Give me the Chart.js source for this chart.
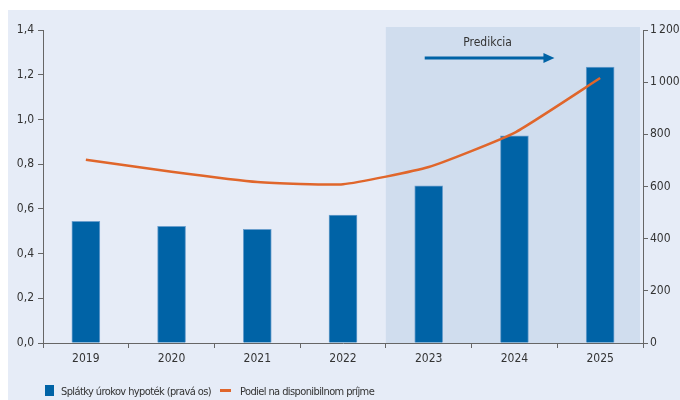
<!DOCTYPE html>
<html>
<head>
<meta charset="utf-8">
<script src="https://cdn.jsdelivr.net/npm/chart.js@4"></script>
<style>
  html, body { margin: 0; padding: 0; background: #fff; }
  #wrap { position: relative; width: 680px; height: 400px; overflow: hidden; }
  #panel { position: absolute; left: 8px; top: 10px; right: 0; bottom: 0; background: #e6ecf7; }
  #chart { position: absolute; left: 0; top: 0; }
  .legend { position: absolute; top: 385px; font: 11px "Liberation Sans Narrow", "DejaVu Sans Condensed", Roboto, sans-serif; letter-spacing: -0.6px; color: #333; white-space: nowrap; }
  .legend span.box { display: inline-block; width: 9px; height: 11px; background: #0063a6; vertical-align: -1px; margin-right: 7px; }
  .legend span.dash { display: inline-block; width: 11px; height: 3px; background: #e0662b; vertical-align: 3px; margin-right: 9px; }
</style>
</head>
<body>
<div id="wrap">
  <div id="panel"></div>
  <canvas id="chart" width="680" height="400"></canvas>
  <div class="legend" style="left:45px"><span class="box"></span>Splátky úrokov hypoték (pravá os)</div>
  <div class="legend" style="left:220px"><span class="dash"></span>Podiel na disponibilnom príjme</div>
</div>
<script>
// data
const years = ['2019', '2020', '2021', '2022', '2023', '2024', '2025'];
const interestPayments = [466, 447, 436, 490, 603, 794, 1058];   // right axis
const incomeShare = [0.82, 0.766, 0.72, 0.71, 0.787, 0.94, 1.185]; // left axis
const firstForecast = 4; // index of 2023

const FONT = '"Liberation Sans Narrow", "DejaVu Sans Condensed", Roboto, sans-serif';

// shaded forecast band + arrow
const forecastBand = {
  id: 'forecastBand',
  beforeDatasetsDraw(chart) {
    const { ctx, chartArea } = chart;
    const x = chart.scales.x;
    const left = (x.getPixelForValue(firstForecast) + x.getPixelForValue(firstForecast - 1)) / 2;
    const right = chartArea.right - 3;
    ctx.save();
    ctx.fillStyle = '#d0ddee';
    ctx.fillRect(left, chartArea.top - 3, right - left, chartArea.bottom - chartArea.top + 3);

    // label + arrow
    const ax0 = x.getPixelForValue(firstForecast) - 4;
    const ax1 = x.getPixelForValue(firstForecast + 1) + 40;
    const ay = chartArea.top + 28;
    ctx.fillStyle = '#333';
    ctx.font = '12px ' + FONT;
    ctx.textAlign = 'center';
    ctx.textBaseline = 'middle';
    ctx.fillText('Predikcia', (ax0 + ax1) / 2 - 2, chartArea.top + 13);
    ctx.strokeStyle = '#0063a6';
    ctx.fillStyle = '#0063a6';
    ctx.lineWidth = 3;
    ctx.beginPath();
    ctx.moveTo(ax0, ay);
    ctx.lineTo(ax1 - 10, ay);
    ctx.stroke();
    ctx.beginPath();
    ctx.moveTo(ax1, ay);
    ctx.lineTo(ax1 - 11, ay - 5);
    ctx.lineTo(ax1 - 11, ay + 5);
    ctx.closePath();
    ctx.fill();
    ctx.restore();
  }
};

const ctx = document.getElementById('chart').getContext('2d');
new Chart(ctx, {
  data: {
    labels: years,
    datasets: [
      {
        type: 'line',
        label: 'Podiel na disponibilnom príjme',
        data: incomeShare,
        yAxisID: 'y',
        borderColor: '#e0662b',
        borderWidth: 2.5,
        pointRadius: 0,
        tension: 0.15,
        order: 0
      },
      {
        type: 'bar',
        label: 'Splátky úrokov hypoték (pravá os)',
        data: interestPayments,
        yAxisID: 'y1',
        backgroundColor: '#0063a6',
        borderColor: '#6b9fcd',
        borderWidth: 1,
        barThickness: 28,
        order: 1
      }
    ]
  },
  options: {
    responsive: false,
    animation: false,
    layout: { padding: { top: 30, left: 0, right: 0, bottom: 0 } },
    plugins: {
      legend: { display: false },
      tooltip: { enabled: false }
    },
    scales: {
      x: {
        offset: true,
        grid: { drawOnChartArea: false, offset: true, tickLength: 5, color: '#666' },
        border: { color: '#666', width: 1 },
        ticks: { color: '#333', font: { family: FONT, size: 12 }, padding: 4 },
        afterFit(s) { s.height = 57; }
      },
      y: {
        position: 'left',
        min: 0, max: 1.4,
        ticks: {
          stepSize: 0.2,
          color: '#333',
          padding: 4,
          font: { family: FONT, size: 12 },
          callback: v => v.toFixed(1).replace('.', ',')
        },
        grid: { drawOnChartArea: false, tickLength: 5, color: '#666' },
        border: { color: '#666', width: 1 },
        afterFit(s) { s.width = 43; }
      },
      y1: {
        position: 'right',
        min: 0, max: 1200,
        ticks: {
          stepSize: 200,
          color: '#333',
          padding: 2,
          font: { family: FONT, size: 12 },
          callback: v => String(v).replace(/\B(?=(\d{3})+(?!\d))/g, '\u202f')
        },
        grid: { drawOnChartArea: false, tickLength: 5, color: '#666' },
        border: { color: '#666', width: 1 },
        afterFit(s) { s.width = 37; }
      }
    }
  },
  plugins: [forecastBand]
});
</script>
</body>
</html>
